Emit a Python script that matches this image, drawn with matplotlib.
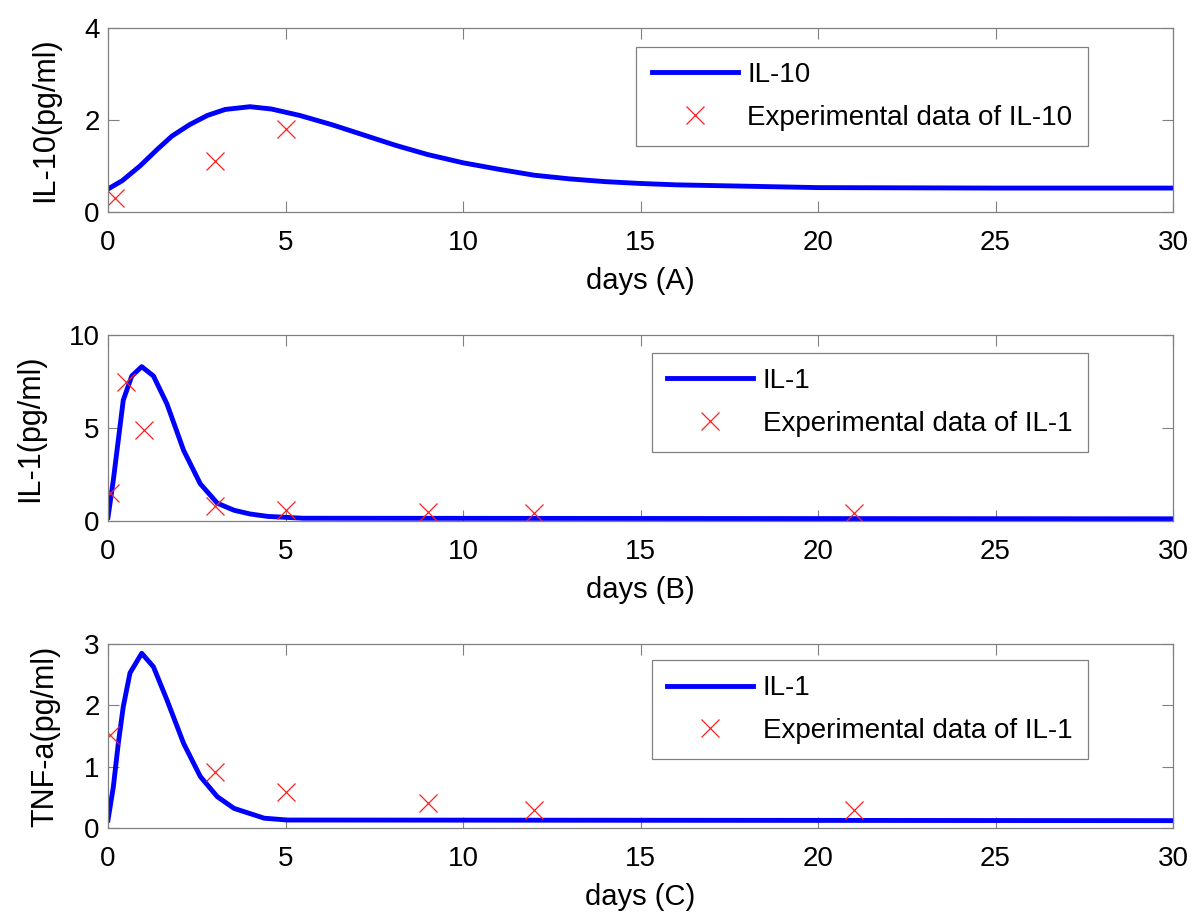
import matplotlib
matplotlib.use("Agg")
import matplotlib.pyplot as plt

plt.rcParams['font.family'] = ['Liberation Sans', 'DejaVu Sans']

# model curves
t_il10 = [0, 0.4, 0.9, 1.4, 1.8, 2.3, 2.8, 3.3, 4.0, 4.6, 5.4, 6.3, 7.3, 8.1, 9, 10,
          11, 12, 13, 14, 15, 16, 18, 20, 25, 30]
y_il10 = [0.5, 0.68, 1.0, 1.37, 1.65, 1.9, 2.1, 2.23, 2.29, 2.24, 2.1, 1.9, 1.65, 1.45,
          1.25, 1.07, 0.93, 0.8, 0.72, 0.66, 0.62, 0.59, 0.56, 0.53, 0.52, 0.52]

t_il1 = [0, 0.15, 0.29, 0.43, 0.67, 0.95, 1.28, 1.66, 2.13, 2.6, 3.08, 3.55, 4.0, 4.5, 5.5, 30]
y_il1 = [0.2, 2.2, 4.35, 6.5, 7.8, 8.3, 7.8, 6.3, 3.8, 2.0, 0.96, 0.58, 0.38, 0.25, 0.15, 0.12]

t_tnf = [0, 0.15, 0.29, 0.43, 0.62, 0.95, 1.28, 1.66, 2.13, 2.6, 3.08, 3.55, 4.4, 5.05, 30]
y_tnf = [0.13, 0.67, 1.38, 1.98, 2.53, 2.85, 2.63, 2.09, 1.38, 0.84, 0.51, 0.32, 0.16, 0.13, 0.12]

# experimental points
te_il10 = [0.2, 3, 5]
ye_il10 = [0.3, 1.1, 1.8]
te_il1 = [0.05, 0.5, 1, 3, 5, 9, 12, 21]
ye_il1 = [1.5, 7.5, 4.9, 0.8, 0.6, 0.5, 0.43, 0.43]
te_tnf = [0.05, 3, 5, 9, 12, 21]
ye_tnf = [1.52, 0.92, 0.59, 0.4, 0.3, 0.3]

fig = plt.figure(figsize=(12, 9.24), dpi=100)

# panel boxes (figure fraction) + legend anchors (axes fraction)
boxes = [[0.09, 0.7706, 0.8875, 0.199],
         [0.09, 0.4361, 0.8875, 0.2013],
         [0.09, 0.1039, 0.8875, 0.199]]
panels = [
    (t_il10, y_il10, te_il10, ye_il10, 'IL-10', 'Experimental data of IL-10',
     'IL-10(pg/ml)', 'days (A)', (0, 4), [0, 2, 4], 0.898),
    (t_il1, y_il1, te_il1, ye_il1, 'IL-1', 'Experimental data of IL-1',
     'IL-1(pg/ml)', 'days (B)', (0, 10), [0, 5, 10], 0.905),
    (t_tnf, y_tnf, te_tnf, ye_tnf, 'IL-1', 'Experimental data of IL-1',
     'TNF-a(pg/ml)', 'days (C)', (0, 3), [0, 1, 2, 3], 0.913),
]

for box, p in zip(boxes, panels):
    t, y, te, ye, lab, elab, ylab, xlab, ylim, yt, ltop = p
    ax = fig.add_axes(box)
    ax.plot(t, y, color='#0000ff', lw=3.5, label=lab)
    ax.plot(te, ye, ls='none', marker='x', ms=13, mew=0.9, color='#ff2020', label=elab)
    ax.set_xlim(0, 30)
    ax.set_ylim(*ylim)
    ax.set_xticks([0, 5, 10, 15, 20, 25, 30])
    ax.set_yticks(yt)
    ax.tick_params(direction='in', length=8, width=0.8, color='#808080',
                   top=True, right=True, labelsize=20)
    ax.tick_params(axis='x', pad=13)
    ax.tick_params(axis='y', pad=6)
    for s in ax.spines.values():
        s.set_color('#808080')
        s.set_linewidth(0.9)
    ax.set_ylabel(ylab, fontsize=22, labelpad=17)
    ax.set_xlabel(xlab, fontsize=21, labelpad=8)
    leg = ax.legend(loc='upper right', bbox_to_anchor=(0.92, ltop), fontsize=20,
                    fancybox=False, framealpha=1, edgecolor='#808080',
                    handlelength=3.1, handletextpad=0.35, borderpad=0.55,
                    labelspacing=0.6, borderaxespad=0)
    leg.get_frame().set_linewidth(0.9)

fig.savefig('out.png', dpi=100)
